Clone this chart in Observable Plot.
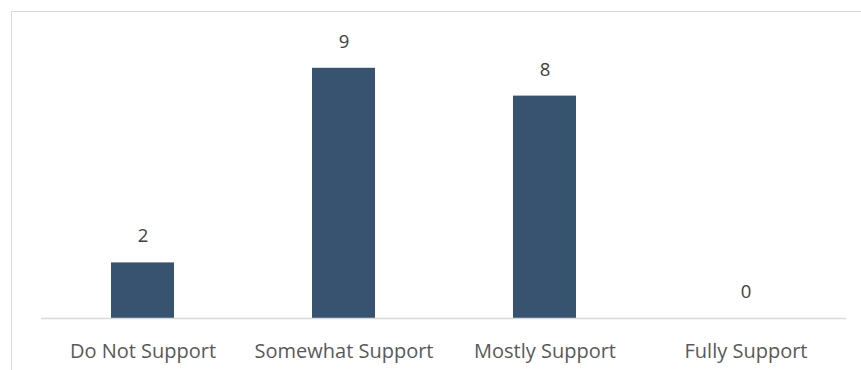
<!DOCTYPE html>
<html>
<head>
<meta charset="utf-8">
<script src="https://cdn.jsdelivr.net/npm/d3@7"></script>
<script src="https://cdn.jsdelivr.net/npm/@observablehq/plot@0.6"></script>
<style>
  html, body { margin: 0; padding: 0; background: #fff; }
  #wrap { position: relative; width: 861px; height: 370px; overflow: hidden; }
  #border { position: absolute; left: 11px; top: 11px; width: 860px; height: 370px;
            border-left: 1px solid #d9d9d9; border-top: 1px solid #d9d9d9; pointer-events: none; }
  #chart { position: absolute; left: 0; top: 0; }
</style>
</head>
<body>
<div id="wrap"><div id="chart"></div><div id="border"></div></div>
<script>
const categories = ["Do Not Support", "Somewhat Support", "Mostly Support", "Fully Support"];
const values = [2, 9, 8, 0];

const data = categories.map((c, i) => ({category: c, value: values[i]}));

const chart = Plot.plot({
  width: 861,
  height: 370,
  marginLeft: 41,
  marginRight: 15,
  marginTop: 40,
  marginBottom: 52,
  style: {fontFamily: "'Open Sans', sans-serif", background: "transparent"},
  x: {domain: categories, paddingInner: 0.687, paddingOuter: 0.3435, align: 0.5},
  y: {domain: [0, 10], axis: null},
  marks: [
    Plot.barY(data, {x: "category", y: "value", fill: "#37536F"}),
    Plot.ruleY([0], {stroke: "#d9d9d9", strokeWidth: 1.5}),
    Plot.text(data, {x: "category", y: "value", text: d => String(d.value), dy: -26.5, fontSize: 18.5, fill: "#404040"}),
    Plot.axisX({tickSize: 0, tickPadding: 25, fontSize: 20, fill: "#595959", label: null})
  ]
});
document.getElementById("chart").appendChild(chart);
</script>
</body>
</html>
